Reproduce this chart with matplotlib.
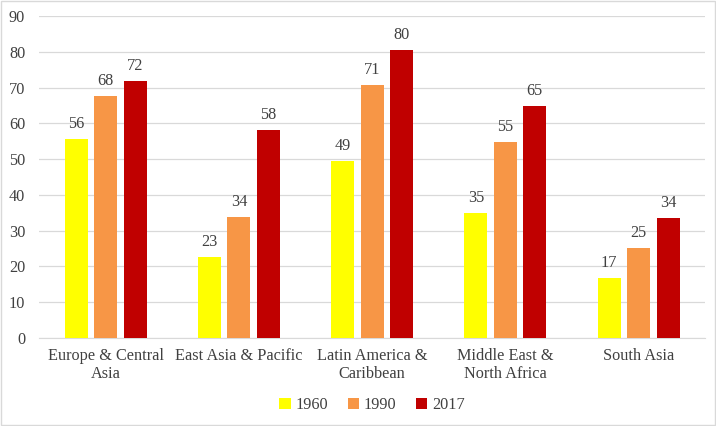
import matplotlib.pyplot as plt
import numpy as np
from matplotlib.patches import Rectangle

plt.rcParams["font.family"] = ["Liberation Serif", "DejaVu Serif"]

regions = ["Europe & Central\nAsia", "East Asia & Pacific", "Latin America &\nCaribbean",
           "Middle East &\nNorth Africa", "South Asia"]
years = ["1960", "1990", "2017"]
v1960 = [55.6, 22.6, 49.4, 34.9, 16.8]
v1990 = [67.6, 33.8, 70.7, 54.8, 25.2]
v2017 = [71.8, 58.1, 80.5, 64.8, 33.5]
colors = ["#ffff00", "#f79646", "#c00000"]

fig = plt.figure(figsize=(7.16, 4.26), dpi=100)
ax = fig.add_axes([0.0545, 0.2066, 0.9305, 0.7558])

x = np.arange(len(regions))
w = 0.173
step = 0.221
txt = "#404040"
fs = 11.7
for i, (vals, c, lab) in enumerate(zip([v1960, v1990, v2017], colors, years)):
    pos = x + (i - 1) * step
    ax.bar(pos, vals, width=w, color=c, label=lab, zorder=3)
    for xp, v in zip(pos, vals):
        ax.text(xp, v + 2.0, f"{round(v)}", ha="center", va="bottom",
                fontsize=fs, color=txt)

ax.set_xlim(-0.5, len(regions) - 0.5)
ax.set_ylim(0, 90)
ax.set_yticks(range(0, 91, 10))
ax.set_xticks(x)
ax.set_xticklabels(regions, fontsize=fs, color=txt, linespacing=1.15)
ax.tick_params(axis="y", labelsize=fs, labelcolor=txt, length=0, pad=10)
ax.tick_params(axis="x", length=0, pad=7)
ax.grid(axis="y", color="#d9d9d9", lw=0.9, zorder=0)
for s in ["left", "right", "top"]:
    ax.spines[s].set_visible(False)
ax.spines["bottom"].set_color("#d9d9d9")

ax.legend(loc="center", bbox_to_anchor=(0.5, -0.208), ncol=3, frameon=False,
          fontsize=fs, handlelength=0.7, handleheight=0.7, handletextpad=0.3,
          columnspacing=1.2, labelcolor=txt)

fig.patches.append(Rectangle((0.001, 0.002), 0.997, 0.996, transform=fig.transFigure,
                             fill=False, edgecolor="#d9d9d9", lw=1))

fig.savefig("out.png", dpi=100)
